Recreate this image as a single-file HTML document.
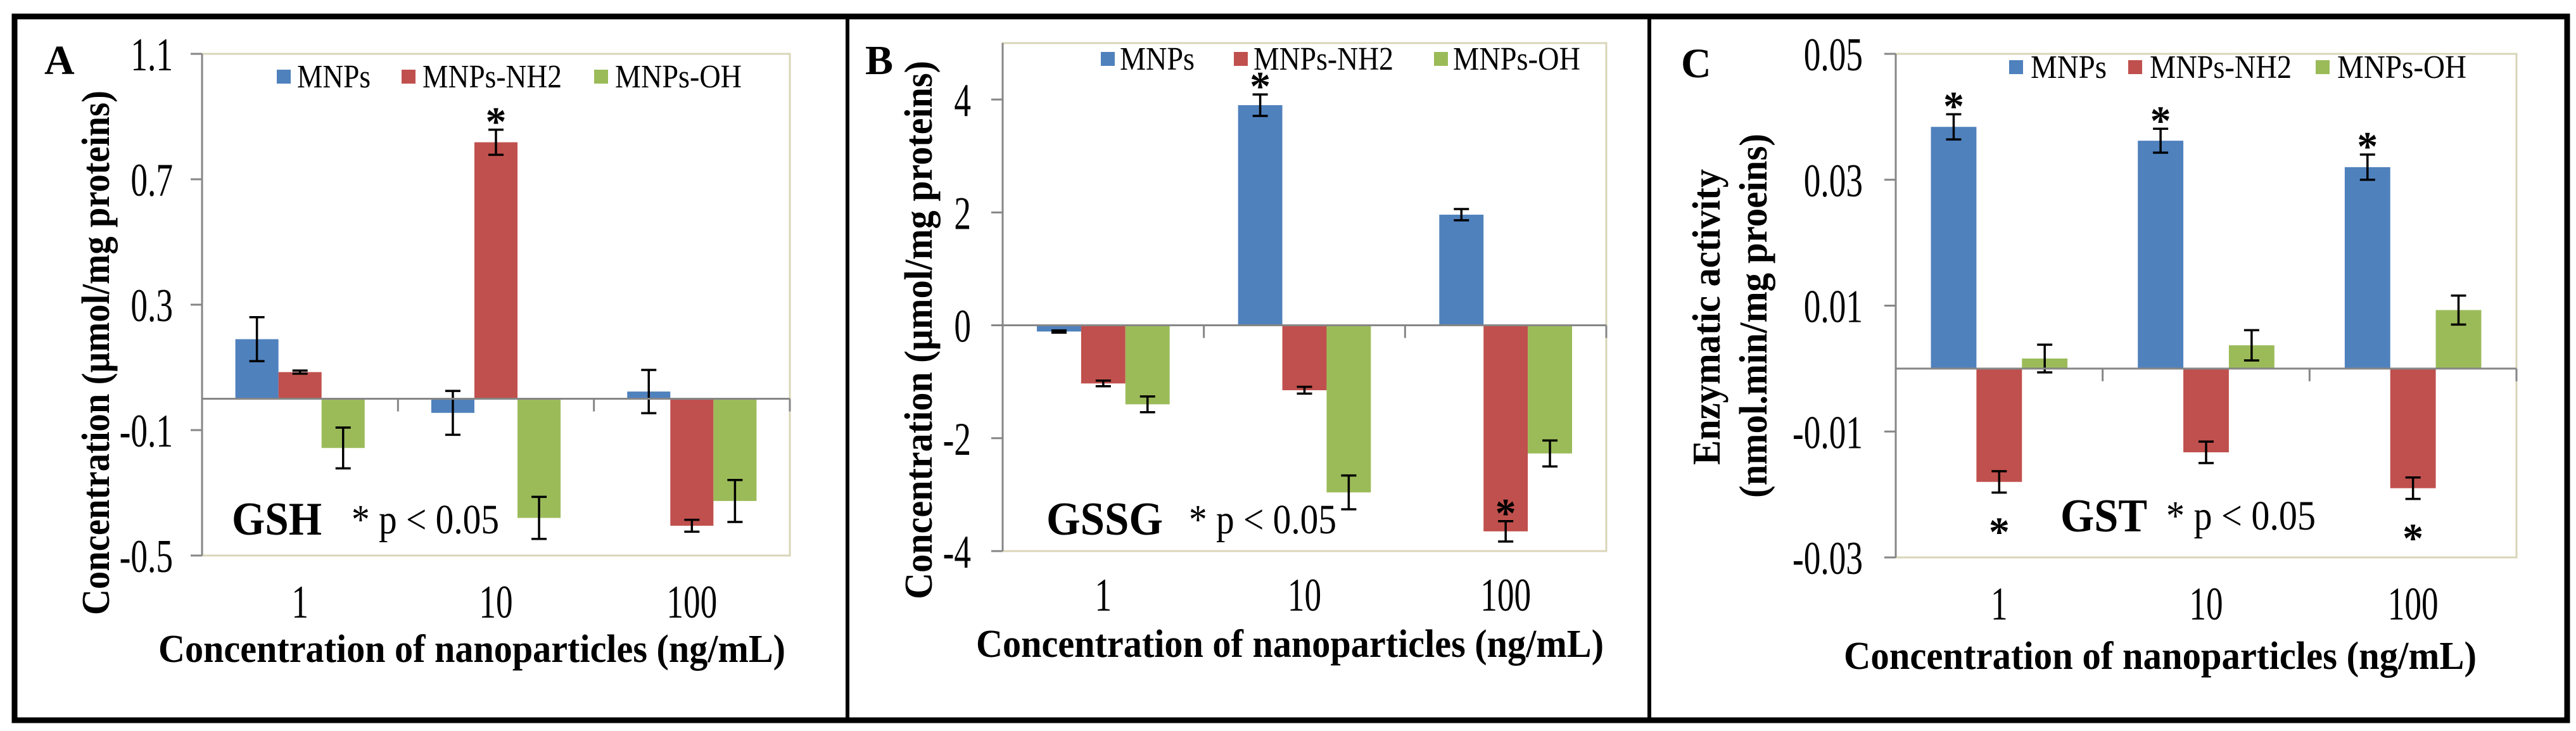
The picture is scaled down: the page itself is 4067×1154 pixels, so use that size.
<!DOCTYPE html>
<html><head><meta charset="utf-8"><style>
html,body{margin:0;padding:0;background:#fff;}
svg{display:block;font-family:"Liberation Serif","Times New Roman",serif;}
</style></head><body>
<svg id="chart" width="4067" height="1154" viewBox="0 0 4067 1154" xmlns="http://www.w3.org/2000/svg">
<rect x="0" y="0" width="4067" height="1154" fill="#fff"/>
<rect x="23" y="26" width="4030" height="1111" fill="none" stroke="#000" stroke-width="9"/>
<line x1="1338" y1="26" x2="1338" y2="1137" stroke="#000" stroke-width="6"/>
<line x1="2604" y1="26" x2="2604" y2="1137" stroke="#000" stroke-width="6"/>
</svg>
<script>
// ---------- data ----------
const categories = ["1", "10", "100"];
const seriesNames = ["MNPs", "MNPs-NH2", "MNPs-OH"];
const gshMNPs = [0.19, -0.045, 0.023];
const gshNH2 = [0.085, 0.818, -0.405];
const gshOH = [-0.157, -0.38, -0.326];
const gshErrMNPs = [0.07, 0.07, 0.069];
const gshErrNH2 = [0.005, 0.04, 0.019];
const gshErrOH = [0.065, 0.067, 0.067];
const gshTicks = [1.1, 0.7, 0.3, -0.1, -0.5];
const gssgMNPs = [-0.11, 3.9, 1.96];
const gssgNH2 = [-1.03, -1.15, -3.65];
const gssgOH = [-1.4, -2.96, -2.27];
const gssgErrMNPs = [0.02, 0.19, 0.1];
const gssgErrNH2 = [0.05, 0.06, 0.18];
const gssgErrOH = [0.14, 0.3, 0.23];
const gssgTicks = [4, 2, 0, -2, -4];
const gstMNPs = [0.0384, 0.0362, 0.032];
const gstNH2 = [-0.018, -0.0133, -0.019];
const gstOH = [0.0016, 0.0037, 0.0093];
const gstErrMNPs = [0.002, 0.0019, 0.002];
const gstErrNH2 = [0.0017, 0.0017, 0.0017];
const gstErrOH = [0.0022, 0.0024, 0.0023];
const gstTicks = [0.05, 0.03, 0.01, -0.01, -0.03];
// significance stars: [seriesIndex, categoryIndex, side]
const gshStars = [[1, 1, "above"]];
const gssgStars = [[0, 1, "above"], [1, 2, "above"]];
const gstStars = [[0, 0, "above"], [0, 1, "above"], [0, 2, "above"], [1, 0, "below"], [1, 2, "below"]];

const colors = ["#4f81bd", "#c0504d", "#9bbb59"];
const NS = "http://www.w3.org/2000/svg";
const svg = document.getElementById("chart");

function mk(tag, attrs, parent) {
  const e = document.createElementNS(NS, tag);
  for (const k in attrs) e.setAttribute(k, attrs[k]);
  (parent || svg).appendChild(e);
  return e;
}
function txt(parent, s, x, y, size, opts) {
  opts = opts || {};
  const t = mk("text", {x: x, y: y, "font-size": size, fill: "#000"}, parent);
  if (opts.bold) t.setAttribute("font-weight", "bold");
  if (opts.anchor) t.setAttribute("text-anchor", opts.anchor);
  if (opts.len) { t.setAttribute("textLength", opts.len); t.setAttribute("lengthAdjust", "spacingAndGlyphs"); }
  if (opts.rot) t.setAttribute("transform", "rotate(-90 " + x + " " + y + ")");
  t.textContent = s;
  return t;
}

function drawPanel(P) {
  const g = mk("g", {});
  
  
  const y = v => P.t + (P.max - v) / (P.max - P.min) * (P.b - P.t);
  const catW = (P.r - P.l) / categories.length;
  const bw = catW * 0.22;
  const x0 = i => P.l + i * catW + (catW - 3 * bw) / 2;
  // plot frame
  const fr = mk("rect", {x: P.l, y: P.t, width: P.r - P.l, height: P.b - P.t, fill: "none", stroke: "#d9d6b8", "stroke-width": 3}, g);
  
  
  // bars
  P.series.forEach((vals, s) => {
    vals.forEach((v, i) => {
      const yt = Math.min(y(v), y(0)), h = Math.abs(y(v) - y(0));
      const bx = x0(i) + s * bw;
      const r = mk("rect", {x: bx, y: yt, width: bw, height: h, fill: colors[s]}, g);
      
      
      const e = P.errs[s][i], cx = bx + bw / 2;
      const eb = mk("path", {d: "M" + cx + " " + y(v + e) + "V" + y(v - e) + "M" + (cx - 12) + " " + y(v + e) + "h24M" + (cx - 12) + " " + y(v - e) + "h24", stroke: "#000", "stroke-width": 3.5, fill: "none"}, g);
      
      
    });
  });
  // stars
  P.stars.forEach(st => {
    const s = st[0], i = st[1], v = P.series[s][i], e = P.errs[s][i];
    const cx = x0(i) + s * bw + bw / 2;
    const c = st[2] === "above" ? y(Math.max(v + e, v - e)) - 27 : y(Math.min(v + e, v - e)) + 48;
    const t = txt(g, "*", cx, c + 36, 66, {bold: true, anchor: "middle"});
    
    
  });
  // zero line & category ticks
  const zl = mk("line", {x1: P.l, y1: y(0), x2: P.r, y2: y(0), stroke: "#868686", "stroke-width": 3}, g);
  
  
  for (let i = 1; i <= categories.length; i++) {
    mk("line", {x1: P.l + i * catW, y1: y(0), x2: P.l + i * catW, y2: y(0) + 20, stroke: "#868686", "stroke-width": 3}, g);
  }
  // y axis
  const ax = mk("line", {x1: P.l, y1: P.t, x2: P.l, y2: P.b, stroke: "#868686", "stroke-width": 3}, g);
  
  
  P.ticks.forEach(v => {
    mk("line", {x1: P.l - 18, y1: y(v), x2: P.l, y2: y(v), stroke: "#868686", "stroke-width": 3}, g);
    const s = String(v);
    const t = txt(g, s, 0, 0, 74, {anchor: "end"});
    t.setAttribute("transform", "translate(" + P.tickX + " " + (y(v) + 26) + ") scale(0.72 1)");
    
    
  });
  // category labels
  categories.forEach((c, i) => {
    const t = txt(g, c, 0, 0, 74, {anchor: "middle"});
    t.setAttribute("transform", "translate(" + (P.l + (i + 0.5) * catW) + " " + P.catY + ") scale(0.72 1)");
    
    
  });
  // legend
  P.leg.forEach((lx, s) => {
    const sq = mk("rect", {x: lx[0], y: P.legY - 11, width: 22, height: 22, fill: colors[s]}, g);
    
    
    const t = txt(g, seriesNames[s], lx[1], P.legY + 17, 52, {len: lx[2]});
    
    
  });
  // titles
  const xt = txt(g, "Concentration of nanoparticles (ng/mL)", P.xt[0], P.xt[1], 62, {bold: true, len: P.xt[2]});
  
  
  P.yt.forEach(a => {
    const t = txt(g, a[0], a[1], a[2], 62, {bold: true, rot: true, len: a[3]});
    
    
  });
  const pl = txt(g, P.letter[0], P.letter[1], P.letter[2], 66, {bold: true});
  
  
  const nm = txt(g, P.assay[0], P.assay[1], P.assay[2], 74, {bold: true, len: P.assay[3]});
  
  
  const pv = txt(g, "* p < 0.05", P.pv[0], P.pv[1], 66, {len: P.pv[2]});
  
  
}

drawPanel({name: "panel-a-gsh", l: 319, r: 1247, t: 85, b: 877, min: -0.5, max: 1.1, ticks: gshTicks, tickX: 273, catY: 975,
  series: [gshMNPs, gshNH2, gshOH], errs: [gshErrMNPs, gshErrNH2, gshErrOH], stars: gshStars,
  legY: 121, leg: [[437, 469, 116], [634, 667, 220], [938, 971, 200]],
  xt: [250, 1045, 990], yt: [["Concentration (µmol/mg proteins)", 172, 971, 828]],
  letter: ["A", 70, 117], assay: ["GSH", 366, 844, 142], pv: [555, 842, 233]});
drawPanel({name: "panel-b-gssg", l: 1583, r: 2536, t: 68, b: 870, min: -4, max: 5, ticks: gssgTicks, tickX: 1533, catY: 964,
  series: [gssgMNPs, gssgNH2, gssgOH], errs: [gssgErrMNPs, gssgErrNH2, gssgErrOH], stars: gssgStars,
  legY: 93, leg: [[1738, 1768, 118], [1948, 1979, 221], [2264, 2294, 201]],
  xt: [1541, 1037, 991], yt: [["Concentration (µmol/mg proteins)", 1471, 946, 850]],
  letter: ["B", 1366, 117], assay: ["GSSG", 1652, 844, 184], pv: [1877, 842, 233]});
drawPanel({name: "panel-c-gst", l: 2993, r: 3973, t: 85, b: 880, min: -0.03, max: 0.05, ticks: gstTicks, tickX: 2941, catY: 978,
  series: [gstMNPs, gstNH2, gstOH], errs: [gstErrMNPs, gstErrNH2, gstErrOH], stars: gstStars,
  legY: 106, leg: [[3172, 3206, 120], [3360, 3394, 224], [3656, 3690, 204]],
  xt: [2911, 1056, 999], yt: [["Enzymatic activity", 2715, 734, 467], ["(nmol.min/mg proeins)", 2789, 786, 575]],
  letter: ["C", 2654, 122], assay: ["GST", 3253, 839, 137], pv: [3420, 836, 236]});
</script>
</body></html>
